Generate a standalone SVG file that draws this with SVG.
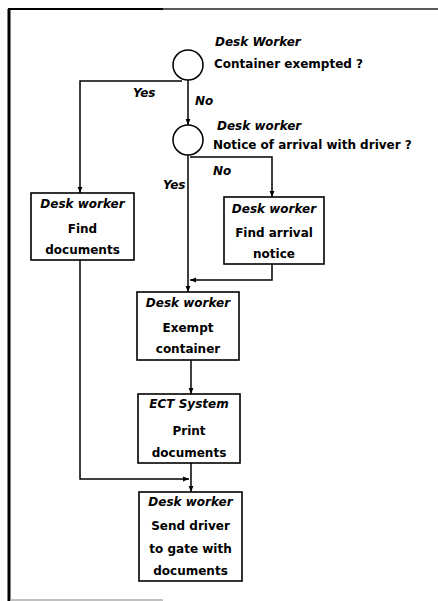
<svg xmlns="http://www.w3.org/2000/svg" width="438" height="601" viewBox="0 0 438 601">
<defs>
<marker id="ah" viewBox="0 0 10 10" refX="10" refY="5" markerWidth="6" markerHeight="6" markerUnits="userSpaceOnUse" orient="auto">
<path d="M0,1 L10,5 L0,9 z" fill="#000"/>
</marker>
<style>
.t{font-family:"DejaVu Sans","Liberation Sans",sans-serif;font-weight:bold;font-size:12px;fill:#000}
.i{font-style:italic}
.m{text-anchor:middle}
.box{fill:#fff;stroke:#000;stroke-width:1.6}
.c{fill:#fff;stroke:#000;stroke-width:1.5}
.ln{fill:none;stroke:#000;stroke-width:1.5}
.ar{marker-end:url(#ah)}
</style>
</defs>
<rect x="0" y="0" width="438" height="601" fill="#fff"/>
<g id="frame">
<line x1="9" y1="9" x2="9" y2="601" stroke="#000" stroke-width="3"/>
<line x1="8" y1="9" x2="163" y2="9" stroke="#000" stroke-width="2"/>
<line x1="163" y1="9" x2="438" y2="9" stroke="#222" stroke-width="1.3"/>
<line x1="10" y1="600" x2="163" y2="600" stroke="#aaa" stroke-width="1.5"/>
</g>
<g id="connectors">
<polyline class="ln ar" points="182,81 80,81 80,193"/>
<line class="ln ar" x1="188" y1="80" x2="188" y2="125"/>
<polyline class="ln ar" points="190,157 272,157 272,197"/>
<line class="ln ar" x1="188" y1="155" x2="188" y2="292"/>
<polyline class="ln ar" points="272,264 272,280 190,280"/>
<line class="ln ar" x1="191" y1="360" x2="191" y2="394"/>
<line class="ln ar" x1="191" y1="463" x2="191" y2="492"/>
<polyline class="ln ar" points="80,260 80,479 189,479"/>
</g>
<g id="labels">
<text class="t i" x="133" y="97">Yes</text>
<text class="t i" x="195" y="105">No</text>
<text class="t i" x="213" y="175">No</text>
<text class="t i" x="163" y="189">Yes</text>
</g>
<g id="d1">
<circle class="c" cx="188" cy="65" r="15"/>
<text class="t i" x="215" y="46">Desk Worker</text>
<text class="t" x="214" y="68">Container exempted ?</text>
</g>
<g id="d2">
<circle class="c" cx="188" cy="140" r="15"/>
<text class="t i" x="217" y="130">Desk worker</text>
<text class="t" x="213" y="149">Notice of arrival with driver ?</text>
</g>
<g id="n-find-docs">
<rect class="box" x="31" y="193" width="103" height="67"/>
<text class="t i m" x="82.5" y="208">Desk worker</text>
<text class="t m" x="82.5" y="233">Find</text>
<text class="t m" x="82.5" y="254">documents</text>
</g>
<g id="n-find-arrival">
<rect class="box" x="224" y="197" width="100" height="67"/>
<text class="t i m" x="274" y="213">Desk worker</text>
<text class="t m" x="274" y="237">Find arrival</text>
<text class="t m" x="274" y="258">notice</text>
</g>
<g id="n-exempt">
<rect class="box" x="137" y="292" width="102" height="68"/>
<text class="t i m" x="188" y="307">Desk worker</text>
<text class="t m" x="188" y="332">Exempt</text>
<text class="t m" x="188" y="353">container</text>
</g>
<g id="n-print">
<rect class="box" x="138" y="394" width="102" height="69"/>
<text class="t i m" x="189" y="408">ECT System</text>
<text class="t m" x="189" y="435">Print</text>
<text class="t m" x="189" y="457">documents</text>
</g>
<g id="n-send">
<rect class="box" x="139" y="492" width="103" height="89"/>
<text class="t i m" x="190.5" y="506">Desk worker</text>
<text class="t m" x="190.5" y="530">Send driver</text>
<text class="t m" x="190.5" y="553">to gate with</text>
<text class="t m" x="190.5" y="575">documents</text>
</g>
</svg>
